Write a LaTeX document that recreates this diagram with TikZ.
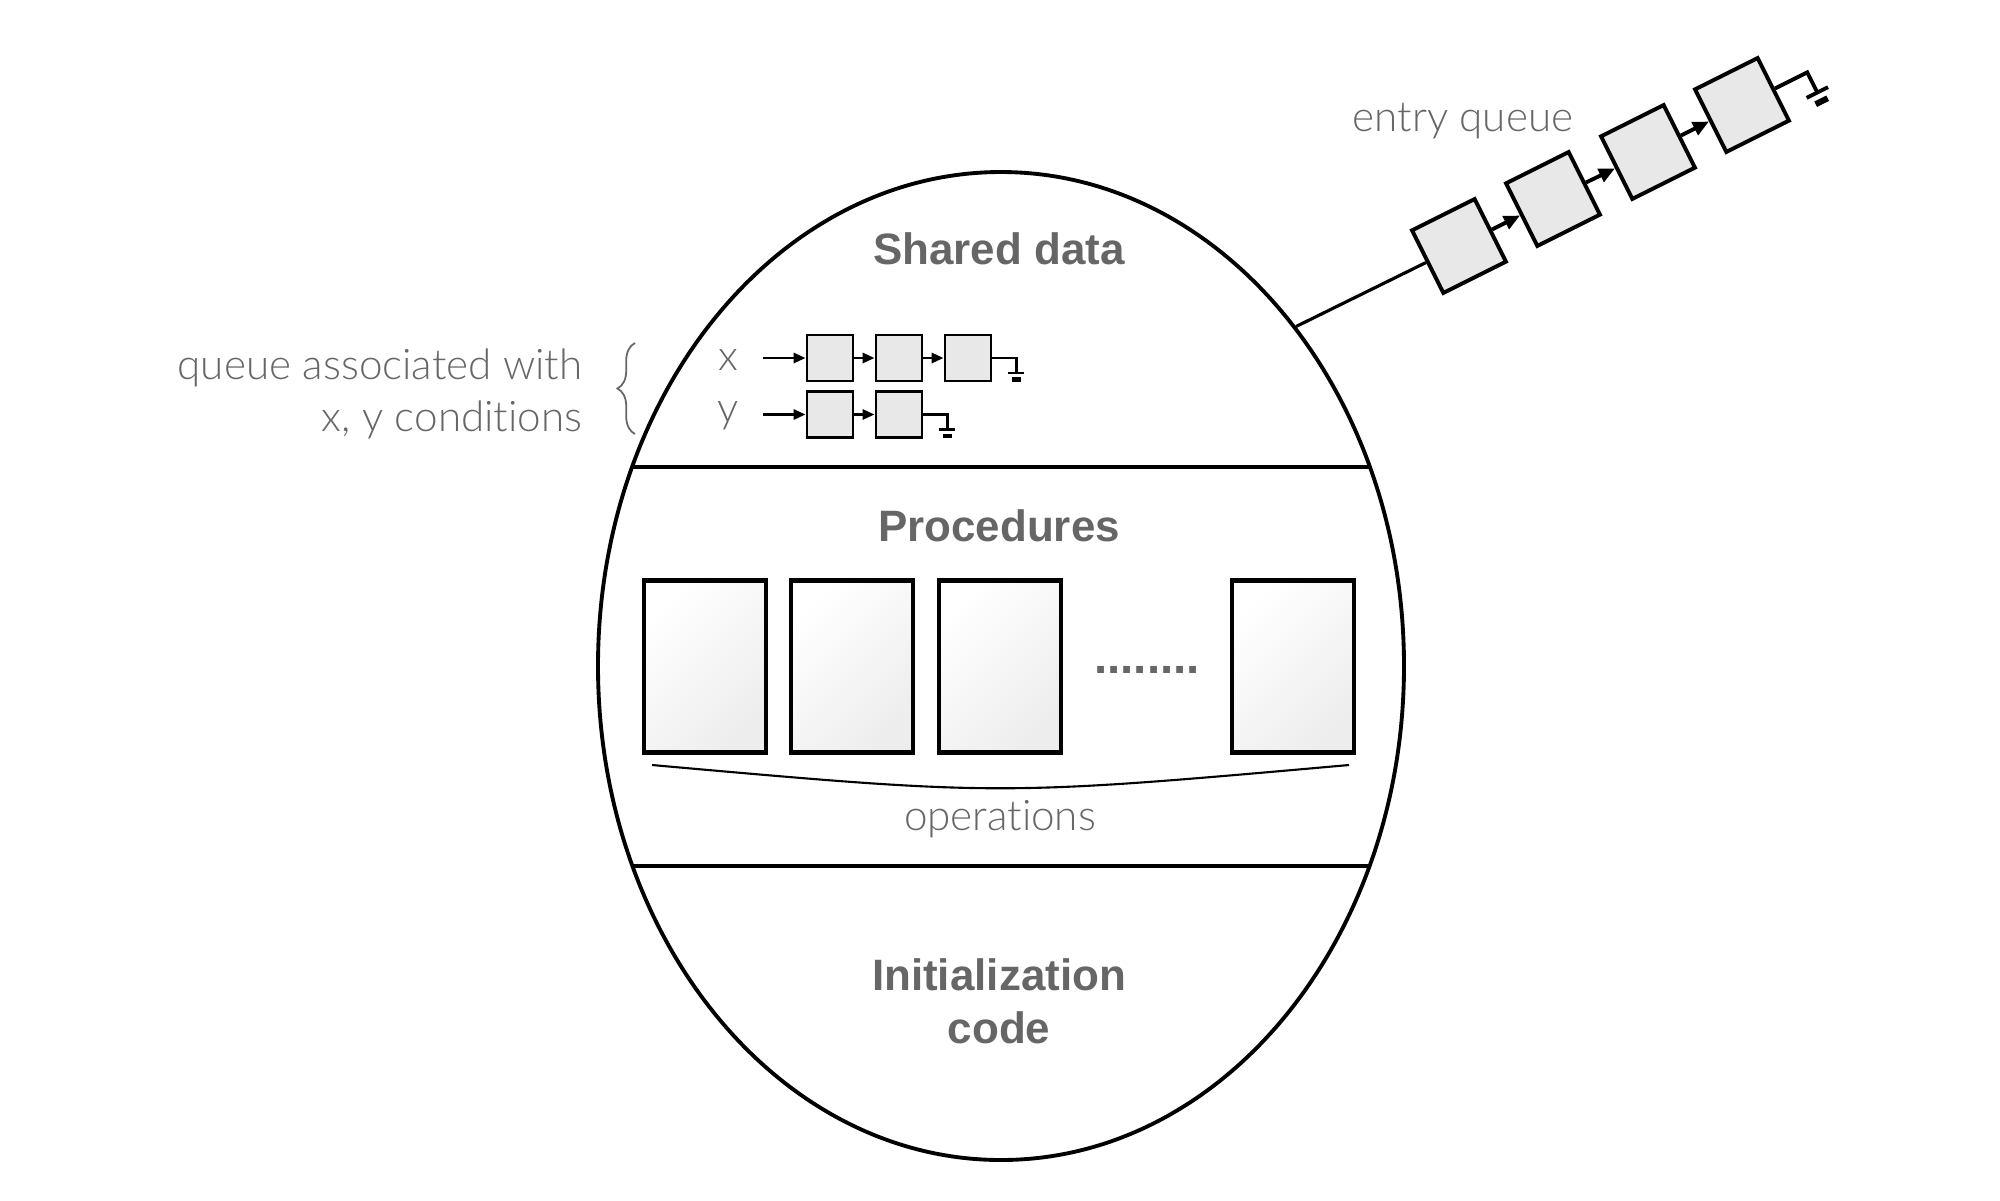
\documentclass[tikz,border=0pt]{standalone}
\usepackage{fontspec}
\setmainfont{Liberation Sans}
\IfFontExistsTF{Lato Light}{\newfontfamily\lightfont[Ligatures=NoCommon]{Lato Light}}{\newfontfamily\lightfont{Liberation Sans}}
\usetikzlibrary{shapes.geometric, arrows.meta, decorations.pathreplacing}
\definecolor{txtgray}{HTML}{666666}
\definecolor{cellgray}{HTML}{E8E8E8}

\begin{document}
\begin{tikzpicture}[
    >={Triangle[length=1.2mm,width=1mm]},
    title/.style={font=\bfseries\fontsize{12.5}{15.1}\selectfont, text=txtgray, align=center, inner sep=0pt},
    lbl/.style={font=\lightfont\fontsize{12}{14.8}\selectfont, text=txtgray, inner sep=0pt},
    cell/.style={draw, line width=0.8pt, fill=cellgray, minimum size=0.46cm, inner sep=0pt},
    bigcell/.style={cell, line width=1.1pt, minimum size=0.70cm, rotate=26.57},
    proc/.style={draw, line width=1.4pt, minimum width=1.22cm, minimum height=1.72cm, inner sep=0pt,
        top color=white, bottom color=black!7, shading angle=45},
    nilend/.pic={
        \draw (0,0) -| (0.24,-0.15);
        \draw (0.16,-0.15) -- (0.32,-0.15);
        \draw[line width=1.25\pgflinewidth] (0.195,-0.215) -- (0.285,-0.215);
    }
]
\useasboundingbox (0,0) rectangle (20,-12);

% monitor outline and its three parts
\node[draw, ellipse, line width=1.1pt, minimum width=8.06cm, minimum height=9.88cm, inner sep=0pt] (monitor) at (10.01,-6.66) {};
\begin{scope}
    \clip (10.01,-6.66) ellipse (4.03 and 4.94);
    \draw[line width=1.4pt] (5,-4.67) -- (15,-4.67);
    \draw[line width=1.4pt] (5,-8.66) -- (15,-8.66);
\end{scope}

\node[title, anchor=base] (shared) at (9.99,-2.64) {Shared data};
\node[title, anchor=base] (procs) at (9.99,-5.41) {Procedures};
\node[title, anchor=north] (init) at (9.99,-9.58) {Initialization\\code};

% condition queues
\node[lbl, anchor=base] (xlab) at (7.28,-3.70) {x};
\node[lbl, anchor=base] (ylab) at (7.28,-4.22) {y};
\coordinate (xin) at (7.63,-3.58);
\coordinate (yin) at (7.63,-4.145);
\node[cell] (x1) at (8.30,-3.58) {};
\node[cell] (x2) at (8.99,-3.58) {};
\node[cell] (x3) at (9.68,-3.58) {};
\node[cell] (y1) at (8.30,-4.145) {};
\node[cell] (y2) at (8.99,-4.145) {};
\draw[->, line width=0.8pt] (xin) -- (x1);
\draw[->, line width=0.8pt] (x1) -- (x2);
\draw[->, line width=0.8pt] (x2) -- (x3);
\draw[->, line width=0.8pt] (yin) -- (y1);
\draw[->, line width=0.8pt] (y1) -- (y2);
\pic[line width=0.8pt] at (x3.east) {nilend};
\pic[line width=0.8pt] at (y2.east) {nilend};

\draw[txtgray, line width=0.5pt, decorate, decoration={brace, amplitude=5pt}] (6.35,-4.34) -- (6.35,-3.43);
\node[lbl, align=right, anchor=east] (qlab) at (5.83,-3.935) {queue associated with\\x, y conditions};

% procedures
\foreach \x/\n in {7.05/1, 8.52/2, 10.00/3, 12.93/4}
    \node[proc] (p\n) at (\x,-6.665) {};
\node[title, font=\bfseries\fontsize{13.5}{15}\selectfont, anchor=base] (dots) at (11.47,-6.73) {........};
\draw[line width=0.6pt] (6.52,-7.65) .. controls (10.0,-7.96) .. (13.49,-7.65);
\node[lbl, anchor=base] (ops) at (10.0,-8.30) {operations};

% entry queue
\node[lbl, anchor=base] (entry) at (14.63,-1.31) {entry queue};
\node[bigcell] (e1) at (14.59,-2.46) {};
\node[bigcell] (e2) at (15.53,-1.99) {};
\node[bigcell] (e3) at (16.48,-1.52) {};
\node[bigcell] (e4) at (17.42,-1.05) {};
\draw[line width=0.9pt] (monitor.49) -- (e1.west);
\draw[->, line width=1.1pt, >={Triangle[length=1.6mm,width=1.4mm]}] (e1.east) -- (e2.west);
\draw[->, line width=1.1pt, >={Triangle[length=1.6mm,width=1.4mm]}] (e2.east) -- (e3.west);
\draw[->, line width=1.1pt, >={Triangle[length=1.6mm,width=1.4mm]}] (e3.east) -- (e4.west);
\pic[rotate=26.57, scale=1.5, line width=1.1pt] at (e4.east) {nilend};
\end{tikzpicture}
\end{document}
